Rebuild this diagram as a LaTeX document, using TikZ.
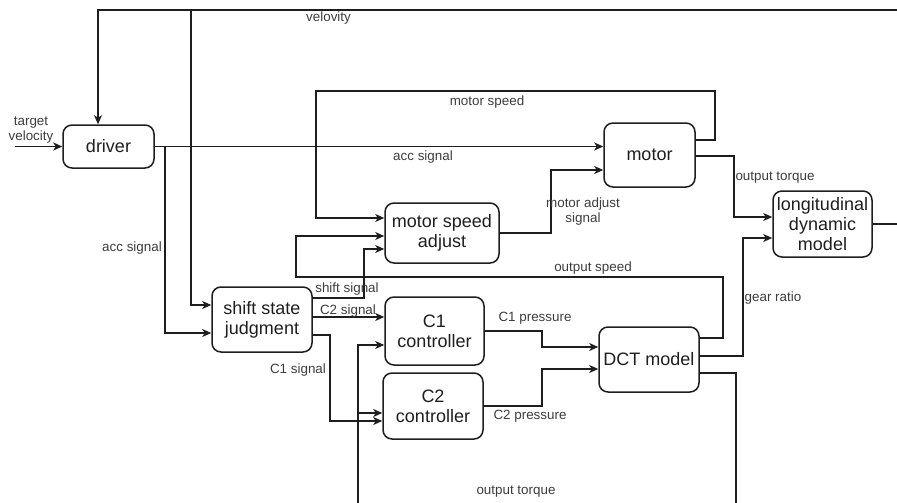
\documentclass[tikz,border=0pt]{standalone}
\usepackage{fontspec}
\setmainfont{Liberation Sans}
\usetikzlibrary{arrows.meta,calc}
\definecolor{linecol}{HTML}{1E1E1E}
\definecolor{labcol}{HTML}{3C3C3C}
\begin{document}
\begin{tikzpicture}[x=1pt,y=-1pt,
  blk/.style={draw=linecol,line width=1.5pt,rounded corners=9pt,align=center,
    inner sep=0pt,font=\fontsize{18}{20}\selectfont,text=linecol},
  arr/.style={draw=linecol,line width=1.5pt,-{Stealth[length=9pt,width=8pt,inset=2.5pt]}},
  ln/.style={draw=linecol,line width=1.5pt},
  lab/.style={font=\fontsize{13.4}{15}\selectfont,text=labcol,align=center,inner sep=0pt}]
\useasboundingbox (0,0) rectangle (897,503);

% blocks
\node[blk,minimum width=91pt,minimum height=43pt] (driver) at (108.5,146.5) {driver};
\node[blk,minimum width=91pt,minimum height=64pt] (motor) at (649.5,155) {motor};
\node[blk,minimum width=114pt,minimum height=60pt] (msa) at (442,233) {motor speed\\adjust};
\node[blk,minimum width=100pt,minimum height=65pt] (ssj) at (262,319.5) {shift state\\judgment};
\node[blk,minimum width=99pt,minimum height=68pt] (c1) at (434.5,331) {C1\\controller};
\node[blk,minimum width=100pt,minimum height=66pt] (c2) at (433,406) {C2\\controller};
\node[blk,minimum width=100pt,minimum height=65pt] (dct) at (649,359.5) {DCT model};
\node[blk,minimum width=99pt,minimum height=66pt] (lon) at (822.5,224) {longitudinal\\dynamic\\model};

% coordinates
\coordinate (tin) at (15,146.5);
\coordinate (accb) at (165,146.5);
\coordinate (vr) at (905,10);
\coordinate (vb) at (191,10);
\coordinate (ms1) at (715,91);
\coordinate (ms2) at (316,91);
\coordinate (ot1) at (734,190);
\coordinate (mas) at (551,200);
\coordinate (os1) at (723,277);
\coordinate (os2) at (296,260);
\coordinate (ss1) at (364,270);
\coordinate (c1s) at (330,360);
\coordinate (tq1) at (736,510);
\coordinate (tq2) at (358,400);
\coordinate (tqb) at (358,413);
\coordinate (p1) at (542,340);
\coordinate (p2) at (542,390);
\coordinate (gr) at (743,300);

% connectors
\draw[arr] (tin) -- (driver.west);
\draw[arr] (driver.east) -- (driver.east -| motor.west);
\draw[arr] (accb) |- ([yshift=-13.5pt]ssj.west);
\draw[arr] (lon.east) -| (vr) -| ([xshift=-10.5pt]driver.north);
\draw[arr] (vb) |- ([yshift=14.5pt]ssj.west);
\draw[arr] ([yshift=15pt]motor.east) -| (ms1) -- (ms2) |- ([yshift=15pt]msa.west);
\draw[arr] ([yshift=-1pt]motor.east) -| (ot1) |- ([yshift=7pt]lon.west);
\draw[arr] (msa.east) -| (mas) |- ([yshift=-15pt]motor.west);
\draw[arr] ([yshift=21.5pt]dct.east) -| (os1) -| (os2) |- ([yshift=-3pt]msa.west);
\draw[arr] ([yshift=21.5pt]ssj.east) -| (ss1) |- ([yshift=-16pt]msa.west);
\draw[arr] ([yshift=2.5pt]ssj.east) -- ([yshift=14pt]c1.west);
\draw[arr] ([yshift=-15.5pt]ssj.east) -| (c1s) |- ([yshift=-15pt]c2.west);
\draw[arr] ([yshift=-13.5pt]dct.east) -| (tq1) -| (tq2) |- ([yshift=-14pt]c1.west);
\draw[arr] (tqb) -- ([yshift=-7pt]c2.west);
\draw[arr] (c1.east) -| (p1) |- ([yshift=12.5pt]dct.west);
\draw[arr] (c2.east) -| (p2) |- ([yshift=-9.5pt]dct.west);
\draw[arr] ([yshift=3.5pt]dct.east) -| (gr) |- ([yshift=-14pt]lon.west);

% labels
\node[lab] (ltv) at (31,130) {target\\velocity};
\node[lab,anchor=west] (lvel) at (306,18) {velovity};
\node[lab] (lms) at (487,102) {motor speed};
\node[lab] (lacc1) at (423,157) {acc signal};
\node[lab] (lacc2) at (132,248) {acc signal};
\node[lab] (lot1) at (775,178) {output torque};
\node[lab] (lmas) at (583,212) {motor adjust\\signal};
\node[lab] (los) at (593,268) {output speed};
\node[lab] (lss) at (347,289) {shift signal};
\node[lab] (lc2s) at (348,311) {C2 signal};
\node[lab] (lc1s) at (298,370) {C1 signal};
\node[lab] (lc1p) at (535,318) {C1 pressure};
\node[lab] (lc2p) at (530,416) {C2 pressure};
\node[lab] (lgr) at (773,298) {gear ratio};
\node[lab] (lot2) at (516,492) {output torque};
\end{tikzpicture}
\end{document}
